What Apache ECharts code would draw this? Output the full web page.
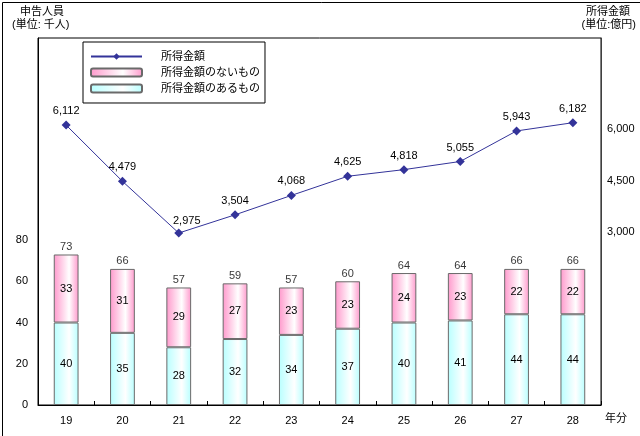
<!DOCTYPE html>
<html>
<head>
<meta charset="utf-8">
<script src="https://cdn.jsdelivr.net/npm/echarts@6/dist/echarts.min.js"></script>
<style>
html,body{margin:0;padding:0;background:#fff;}
#c{width:640px;height:436px;}
</style>
</head>
<body>
<div id="c"></div>
<script>
var categories = ['19','20','21','22','23','24','25','26','27','28'];
var withIncome = [40,35,28,32,34,37,40,41,44,44];
var withoutIncome = [33,31,29,27,23,23,24,23,22,22];
var totals = [73,66,57,59,57,60,64,64,66,66];
var incomeAmount = [6112,4479,2975,3504,4068,4625,4818,5055,5943,6182];
var leftTicks = [0,20,40,60,80];
var rightTicks = [3000,4500,6000];

var FONT = '"Liberation Sans", "Noto Sans CJK JP", sans-serif';
function fmt(v){ return String(v).replace(/\B(?=(\d{3})+(?!\d))/g, ','); }
function grad(c){
  return {type:'linear',x:0,y:0,x2:1,y2:0,colorStops:[
    {offset:0,color:c},{offset:0.62,color:'#ffffff'},{offset:1,color:c}]};
}
// the lowest point's label sits a little to the right, off the line
var lineData = incomeAmount.map(function(v,i){
  var minIdx = incomeAmount.indexOf(Math.min.apply(null,incomeAmount));
  return i === minIdx ? {value:v,label:{offset:[8,2]}} : v;
});

var chart = echarts.init(document.getElementById('c'));
chart.setOption({
  animation:false,
  textStyle:{fontFamily:FONT,color:'#000'},
  grid:{left:38,right:39,top:38,bottom:31,show:true,borderColor:'#000',borderWidth:1},
  legend:{
    orient:'vertical',left:83,top:42,
    data:['所得金額','所得金額のないもの','所得金額のあるもの'],
    itemWidth:51,itemHeight:8,itemGap:5,
    padding:[9,5,9,7],
    borderColor:'#000',borderWidth:1,backgroundColor:'#fff',
    textStyle:{fontSize:11,color:'#000',fontFamily:FONT,padding:[0,0,0,14]}
  },
  xAxis:{
    type:'category',data:categories,
    axisLine:{lineStyle:{color:'#000',width:1}},
    axisTick:{show:true,inside:true,length:4,lineStyle:{color:'#000'}},
    axisLabel:{fontSize:11,color:'#000',margin:10}
  },
  yAxis:[
    {type:'value',min:0,max:178,
     axisLine:{show:true,lineStyle:{color:'#000'}},
     axisTick:{show:false},splitLine:{show:false},
     axisLabel:{customValues:leftTicks,fontSize:11,color:'#000',margin:10,padding:[8,0,0,0]}},
    {type:'value',min:-2025,max:8645,position:'right',
     axisLine:{show:true,lineStyle:{color:'#404040'}},
     axisTick:{show:false},splitLine:{show:false},
     axisLabel:{customValues:rightTicks,fontSize:11,color:'#000',margin:6,formatter:function(v){return fmt(v);}}}
  ],
  series:[
    {name:'所得金額のあるもの',type:'bar',stack:'p',yAxisIndex:0,barWidth:'44%',
     data:withIncome,
     itemStyle:{color:grad('#b8ffff'),borderColor:'#6a6a6a',borderWidth:1},
     label:{show:true,position:'inside',fontSize:11,color:'#000'}},
    {name:'所得金額のないもの',type:'bar',stack:'p',yAxisIndex:0,barWidth:'44%',
     data:withoutIncome,
     itemStyle:{color:grad('#ff99cc'),borderColor:'#6a6a6a',borderWidth:1},
     label:{show:true,position:'inside',fontSize:11,color:'#000'}},
    {name:'合計',type:'scatter',yAxisIndex:0,data:totals,symbolSize:0,silent:true,
     label:{show:true,position:'top',distance:2,fontSize:11,color:'#000'}},
    {name:'所得金額',type:'line',yAxisIndex:1,data:lineData,
     symbol:'diamond',symbolSize:9,
     lineStyle:{color:'#333399',width:1},
     itemStyle:{color:'#333399'},
     label:{show:true,position:'top',distance:4,fontSize:11,color:'#000',
       formatter:function(p){return fmt(p.value);}}}
  ],
  graphic:[
    {type:'rect',left:0,top:0,shape:{x:0.5,y:0.5,width:639,height:435},
     style:{fill:'none',stroke:'#000',lineWidth:1},silent:true,z:100},
    {type:'text',left:20,top:6,style:{text:'申告人員',font:'11px '+FONT,fill:'#000'}},
    {type:'text',left:12,top:19,style:{text:'(単位: 千人)',font:'11px '+FONT,fill:'#000'}},
    {type:'text',right:10,top:6,style:{text:'所得金額',font:'11px '+FONT,fill:'#000'}},
    {type:'text',right:4,top:19,style:{text:'(単位:億円)',font:'11px '+FONT,fill:'#000'}},
    {type:'text',left:605,top:413,style:{text:'年分',font:'11px '+FONT,fill:'#000'}}
  ]
});
</script>
</body>
</html>
